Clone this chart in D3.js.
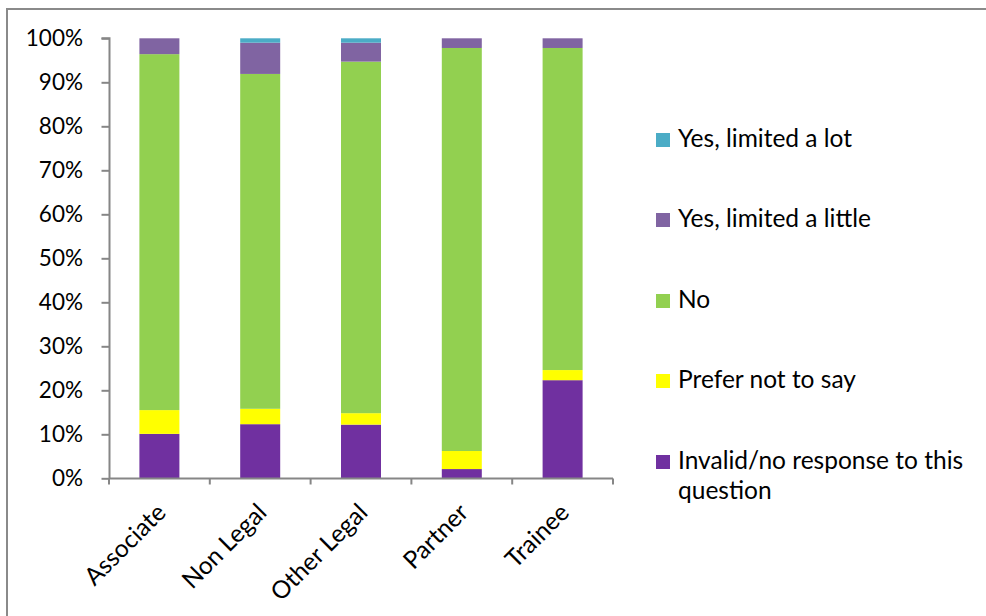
<!DOCTYPE html>
<html><head><meta charset="utf-8">
<script src="https://cdn.jsdelivr.net/npm/d3@7/dist/d3.min.js"></script>
<style>body{margin:0;background:#fff}svg{display:block}text{font-family:Lato,"Open Sans",sans-serif;fill:#000}</style>
</head><body><svg id="c" width="986" height="616"></svg>
<script>
const categories = ["Associate","Non Legal","Other Legal","Partner","Trainee"];
const seriesNames = ["Invalid/no response to this question","Prefer not to say","No","Yes, limited a little","Yes, limited a lot"];
const invalid   = [10.1, 12.3, 12.2, 2.1, 22.3];
const preferNot = [5.4, 3.5, 2.6, 4.1, 2.3];
const no        = [80.9, 76.1, 79.9, 91.6, 73.2];
const little    = [3.6, 7.1, 4.3, 2.2, 2.2];
const lot       = [0, 1.0, 1.0, 0, 0];
const colors = ["#7030A0","#FFFF00","#92D050","#8064A2","#4BACC6"];
const yTicks = [0,10,20,30,40,50,60,70,80,90,100];

const svg = d3.select("#c");
svg.append("rect").attr("x",7).attr("y",9).attr("width",990).attr("height",620)
  .attr("fill","none").attr("stroke","#8a8a8a").attr("stroke-width",2);

const rows = categories.map((c,i)=>({cat:c, s0:invalid[i], s1:preferNot[i], s2:no[i], s3:little[i], s4:lot[i]}));
const keys = ["s0","s1","s2","s3","s4"];
const stacked = d3.stack().keys(keys)(rows);

const x = d3.scaleBand().domain(categories).range([109,613]).paddingInner(0).paddingOuter(0);
const y = d3.scaleLinear().domain([0,100]).range([478.3,38.3]);
const bw = 40;

svg.append("g").selectAll("g").data(stacked).join("g")
  .attr("fill",(d,i)=>colors[i])
  .selectAll("rect").data(d=>d).join("rect")
  .attr("x",d=>x(d.data.cat)+x.bandwidth()/2-bw/2)
  .attr("width",bw)
  .attr("y",d=>y(d[1]))
  .attr("height",d=>Math.max(0,y(d[0])-y(d[1])));

// y axis
const ya = svg.append("g").attr("transform","translate(109.5,0)")
  .call(d3.axisLeft(y).tickValues(yTicks).tickFormat(d=>d+"%").tickSize(8).tickPadding(18.5));
ya.select(".domain").attr("stroke","#868686").attr("stroke-width",2).attr("d","M-8,"+y(100)+"H0V"+y(0));
ya.selectAll(".tick line").attr("stroke","#868686").attr("stroke-width",2);
ya.selectAll("text").attr("font-size",22.5).attr("font-family","Lato").attr("fill","#000");

// x axis
const xa = svg.append("g").attr("transform","translate(0,478.5)")
  .call(d3.axisBottom(x).tickSize(0).tickFormat(""));
xa.select(".domain").attr("stroke","#868686").attr("stroke-width",2).attr("d","M109,0H613");
const bounds = [109].concat(categories.map(c=>x(c)+x.bandwidth()));
xa.selectAll("line.b").data(bounds).join("line").attr("class","b")
  .attr("x1",d=>d).attr("x2",d=>d).attr("y1",0).attr("y2",6)
  .attr("stroke","#868686").attr("stroke-width",2);
svg.append("g").selectAll("text").data(categories).join("text")
  .attr("transform",d=>`translate(${x(d)+x.bandwidth()/2+8},${514}) rotate(-45)`)
  .attr("text-anchor","end").attr("font-size",24.5).text(d=>d);

// legend
const legend = [
  {name:seriesNames[4], c:colors[4], y:138},
  {name:seriesNames[3], c:colors[3], y:218},
  {name:seriesNames[2], c:colors[2], y:299},
  {name:seriesNames[1], c:colors[1], y:379},
  {name:seriesNames[0], c:colors[0], y:460}
];
const lg = svg.append("g");
legend.forEach(l=>{
  lg.append("rect").attr("x",656).attr("y",l.y-5).attr("width",14).attr("height",14).attr("fill",l.c);
  const t = lg.append("text").attr("x",678).attr("y",l.y+9).attr("font-size",24.5);
  if (l.name.startsWith("Invalid")) {
    t.append("tspan").attr("x",678).text("Invalid/no response to this");
    t.append("tspan").attr("x",678).attr("dy",30).text("question");
  } else t.text(l.name);
});
</script></body></html>
